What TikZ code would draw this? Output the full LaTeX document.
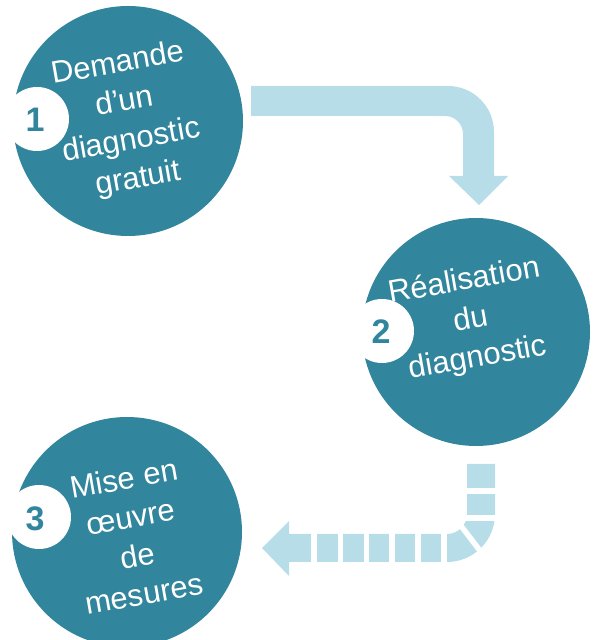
\documentclass[tikz,border=0pt]{standalone}
\usepackage{fontspec}
\setmainfont{Liberation Sans}
\definecolor{teal1}{HTML}{31859C}
\definecolor{lightb}{HTML}{B7DEE8}
\begin{document}
\begin{tikzpicture}[x=1pt,y=1pt,
  bigc/.style={circle,fill=teal1,minimum size=#1,inner sep=0pt},
  numc/.style={circle,fill=white,minimum size=64pt,inner sep=0pt},
  numt/.style={text=teal1,font=\fontsize{34}{34}\selectfont\bfseries,inner sep=0pt},
  lbl/.style={text=white,align=center,rotate=10,inner sep=0pt,font=\fontsize{31}{39}\selectfont},
  gap/.style={draw=white,line width=5.5pt}]
\useasboundingbox (0,0) rectangle (598,640);
% top arrow
\fill[lightb] (251,554) -- (448,554) arc[start angle=90,end angle=0,radius=46pt]
  -- (494,464) -- (508,464) -- (479,435) -- (449,464) -- (463,464) -- (463,506)
  arc[start angle=0,end angle=90,radius=18pt] -- (251,524) -- cycle;
% bottom arrow
\fill[lightb] (467,176) -- (495,176) -- (495,126) arc[start angle=0,end angle=-90,radius=48pt]
  -- (289,78) -- (289,64) -- (262,92) -- (289,119) -- (289,106) -- (447,106)
  arc[start angle=-90,end angle=0,radius=20pt] -- cycle;
\foreach \gx in {314,340.5,366.5,392,418,444}{\draw[gap] (\gx,74) -- (\gx,110);}
\foreach \gy in {149,122}{\draw[gap] (463,\gy) -- (499,\gy);}
\draw[gap] (458,118) -- (481,88);
% circles
\node[bigc=230pt] (c1) at (128,519) {};
\node[bigc=228pt] (c2) at (476,308) {};
\node[bigc=230pt] (c3) at (127,108) {};
\node[numc] (w1) at (37,521) {};
\node[numc] (w2) at (382,309) {};
\node[numc] (w3) at (39,123) {};
\node[numt] (n1) at (35,520) {1};
\node[numt] (n2) at (381,308) {2};
\node[numt] (n3) at (35,121) {3};
\node[lbl] (t1) at (128,518) {Demande\\d’un\\diagnostic\\gratuit};
\node[lbl] (t2) at (471,320) {Réalisation\\du\\diagnostic};
\node[lbl] (t3) at (134,104) {Mise en\\œuvre\\de\\mesures};
\end{tikzpicture}
\end{document}
